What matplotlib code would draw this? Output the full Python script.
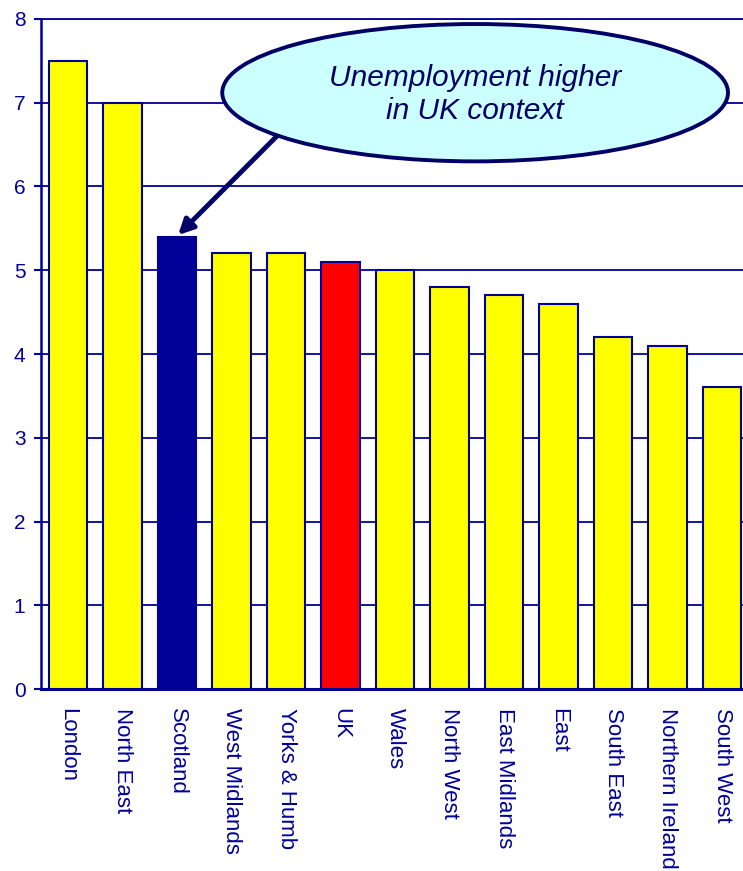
import matplotlib.pyplot as plt
from matplotlib.patches import Ellipse

plt.rcParams['font.family'] = ['Liberation Sans', 'DejaVu Sans']

# data
regions = ['London', 'North East', 'Scotland', 'West Midlands', 'Yorks & Humb', 'UK',
           'Wales', 'North West', 'East Midlands', 'East', 'South East',
           'Northern Ireland', 'South West']
rates = [7.5, 7.0, 5.4, 5.2, 5.2, 5.1, 5.0, 4.8, 4.7, 4.6, 4.2, 4.1, 3.6]
highlight = {'Scotland': '#000099', 'UK': '#FF0000'}
y_ticks = [0, 1, 2, 3, 4, 5, 6, 7, 8]
note = 'Unemployment higher\nin UK context'

navy = '#000099'
dark = '#000066'

fig = plt.figure(figsize=(7.43, 8.71), dpi=100)
W, H = 743.0, 871.0
ax = fig.add_axes([40.75 / W, (H - 689) / H, (749.25 - 40.75) / W, (689 - 19) / H])

colors = [highlight.get(r, '#FFFF00') for r in regions]
x = list(range(len(regions)))
ax.bar(x, rates, width=0.71, color=colors, edgecolor=navy, linewidth=1.5, zorder=3)

ax.set_xlim(-0.5, len(regions) - 0.5)
ax.set_ylim(0, 8)
ax.set_yticks(y_ticks)
ax.set_yticklabels([str(t) for t in y_ticks], fontsize=15, color=navy)
ax.set_xticks(x)
ax.set_xticklabels(regions, rotation=270, fontsize=16, color=navy, va='top', ha='center')

ax.tick_params(axis='y', direction='out', length=5, width=1.5, color=navy, pad=6)
ax.tick_params(axis='x', length=0, pad=14)

ax.yaxis.grid(True, color=navy, linewidth=1.3, zorder=0)
ax.set_axisbelow(True)
for side in ['right']:
    ax.spines[side].set_visible(False)
ax.spines['top'].set_color(navy)
ax.spines['top'].set_linewidth(1.3)
ax.spines['left'].set_color(navy)
ax.spines['left'].set_linewidth(1.8)
ax.spines['bottom'].set_color(navy)
ax.spines['bottom'].set_linewidth(2.2)

# callout
ax.annotate('', xy=(2.02, 5.42), xytext=(3.83, 6.6),
            arrowprops=dict(arrowstyle='-|>,head_length=0.9,head_width=0.45',
                            color=dark, lw=3.5, shrinkA=0, shrinkB=0),
            zorder=5)
ell = Ellipse((7.47, 7.12), 9.28, 1.64, facecolor='#CCFFFF', edgecolor=dark,
              linewidth=2.8, zorder=6, clip_on=False)
ax.add_patch(ell)
ax.text(7.47, 7.1, note, ha='center', va='center', fontsize=21.5, style='italic',
        color=dark, linespacing=1.2, zorder=7)

fig.savefig('out.png', dpi=100)
